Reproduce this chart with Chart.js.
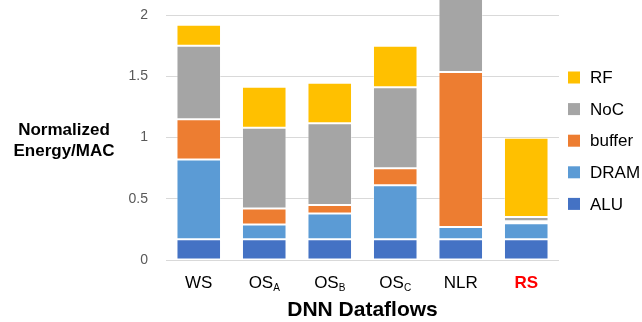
<!DOCTYPE html>
<html>
<head>
<meta charset="utf-8">
<script src="https://cdn.jsdelivr.net/npm/chart.js@4/dist/chart.umd.min.js"></script>
<style>
  html, body { margin: 0; padding: 0; background: #fff; }
  #wrap { width: 642px; height: 322px; }
</style>
</head>
<body>
<div id="wrap"><canvas id="c" width="642" height="322"></canvas></div>
<script>
// Dataflow names (main text + subscript)
const dataflows = ['WS', 'OS', 'OS', 'OS', 'NLR', 'RS'];
const dataflowSubs = ['', 'A', 'B', 'C', '', ''];

// Normalized energy per MAC, split by component
const aluEnergy    = [0.17, 0.17, 0.17, 0.17, 0.17, 0.17];
const dramEnergy   = [0.65, 0.12, 0.21, 0.44, 0.10, 0.13];
const bufferEnergy = [0.33, 0.13, 0.07, 0.14, 1.265, 0.016];
const nocEnergy    = [0.60, 0.66, 0.667, 0.66, 0.75, 0.036];
const rfEnergy     = [0.17, 0.335, 0.33, 0.34, 0.12, 0.645];

const yTicks = [0, 0.5, 1, 1.5, 2];

const FONT = '"Liberation Sans", Arial, Helvetica, sans-serif';

const series = [
  { label: 'ALU',    data: aluEnergy,    color: '#4472C4' },
  { label: 'DRAM',   data: dramEnergy,   color: '#5B9BD5' },
  { label: 'buffer', data: bufferEnergy, color: '#ED7D31' },
  { label: 'NoC',    data: nocEnergy,    color: '#A5A5A5' },
  { label: 'RF',     data: rfEnergy,     color: '#FFC000' }
];

// Draws category labels with subscripts, axis titles and the side legend
const annotations = {
  id: 'annotations',
  afterDraw(chart) {
    const ctx = chart.ctx;
    const x = chart.scales.x;
    const area = chart.chartArea;
    ctx.save();

    // category labels
    dataflows.forEach((name, i) => {
      const cx = x.getPixelForValue(i);
      const isRS = name === 'RS';
      const mainFont = (isRS ? 'bold ' : '') + '17px ' + FONT;
      const subFont = '10px ' + FONT;
      ctx.font = mainFont;
      const wMain = ctx.measureText(name).width;
      ctx.font = subFont;
      const wSub = dataflowSubs[i] ? ctx.measureText(dataflowSubs[i]).width : 0;
      const left = cx - (wMain + wSub) / 2;
      ctx.fillStyle = isRS ? '#FF0000' : '#000000';
      ctx.textBaseline = 'alphabetic';
      ctx.textAlign = 'left';
      ctx.font = mainFont;
      ctx.fillText(name, left, 288);
      if (dataflowSubs[i]) {
        ctx.font = subFont;
        ctx.fillText(dataflowSubs[i], left + wMain, 290.5);
      }
    });

    // x axis title
    ctx.fillStyle = '#000000';
    ctx.font = 'bold 21px ' + FONT;
    ctx.textAlign = 'center';
    ctx.textBaseline = 'middle';
    ctx.fillText('DNN Dataflows', (area.left + area.right) / 2, 310);

    // y axis title
    ctx.font = 'bold 17px ' + FONT;
    ctx.fillText('Normalized', 64, 130);
    ctx.fillText('Energy/MAC', 64, 151);

    // legend (top to bottom: RF ... ALU)
    ctx.font = '17px ' + FONT;
    ctx.textAlign = 'left';
    const order = series.slice().reverse();
    order.forEach((s, k) => {
      const cy = 77.5 + k * 31.6;
      ctx.fillStyle = s.color;
      ctx.fillRect(568, cy - 6, 12, 12);
      ctx.fillStyle = '#000000';
      ctx.fillText(s.label, 590, cy + 1);
    });

    ctx.restore();
  }
};

new Chart(document.getElementById('c'), {
  type: 'bar',
  data: {
    labels: dataflows.map((n, i) => n + dataflowSubs[i]),
    datasets: series.map(s => ({
      label: s.label,
      data: s.data,
      backgroundColor: s.color,
      borderColor: 'rgba(255,255,255,0.35)',
      borderWidth: 1,
      borderSkipped: false,
      barPercentage: 0.68,
      categoryPercentage: 1.0,
      clip: false
    }))
  },
  options: {
    responsive: false,
    animation: false,
    layout: { padding: { top: 15, right: 83, left: 0, bottom: 0 } },
    plugins: {
      legend: { display: false },
      tooltip: { enabled: false }
    },
    scales: {
      x: {
        stacked: true,
        grid: { display: false },
        border: { display: false },
        ticks: { display: false },
        afterFit(scale) { scale.height = 62; }
      },
      y: {
        stacked: true,
        min: 0,
        max: 2,
        afterBuildTicks(scale) { scale.ticks = yTicks.map(v => ({ value: v })); },
        afterFit(scale) { scale.width = 166; },
        grid: {
          color: '#D9D9D9',
          lineWidth: 1,
          drawTicks: true,
          tickLength: 18,
          tickColor: 'rgba(0,0,0,0)'
        },
        border: { display: false },
        ticks: {
          padding: 0,
          color: '#595959',
          font: { family: FONT, size: 14 },
          callback: v => String(v)
        }
      }
    }
  },
  plugins: [annotations]
});
</script>
</body>
</html>
